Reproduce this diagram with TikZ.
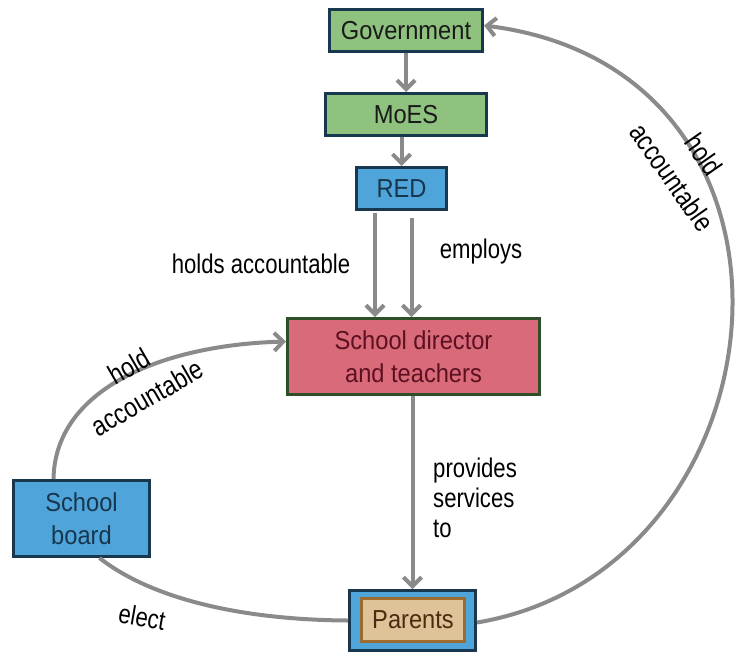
\documentclass[tikz,border=0pt]{standalone}
\usepackage{fontspec}
\setmainfont{Liberation Sans}[FakeStretch=0.91]
\newfontfamily\lblfont{Liberation Sans}[FakeStretch=0.82]
\usetikzlibrary{arrows.meta}
\definecolor{gfill}{HTML}{8FC27E}
\definecolor{navy}{HTML}{17384F}
\definecolor{boxtext}{HTML}{1A1A1A}
\definecolor{bluef}{HTML}{4FA5DA}
\definecolor{bluetext}{HTML}{17364D}
\definecolor{sdfill}{HTML}{D86A7A}
\definecolor{sdborder}{HTML}{2F4F2A}
\definecolor{sdtext}{HTML}{5C1020}
\definecolor{pfill}{HTML}{DEC298}
\definecolor{pborder}{HTML}{9C6B30}
\definecolor{ptext}{HTML}{4D2A0E}
\definecolor{linegray}{HTML}{8A8A8A}
\begin{document}
\begin{tikzpicture}[x=1pt,y=-1pt,
  box/.style={draw=navy, line width=3pt, inner sep=0pt, align=center,
              font=\fontsize{26}{33}\selectfont},
  conn/.style={draw=linegray, line width=4pt},
  arr/.style={conn, -{Straight Barb[length=9pt,width=18pt]}},
  lbl/.style={inner sep=0pt, font=\lblfont\fontsize{27}{30}\selectfont, text=black},
  clbl/.style={inner sep=0pt, align=center, text=black}]
\useasboundingbox (0,0) rectangle (735,654);

% boxes
\node[box, fill=gfill, text=boxtext, minimum width=153pt, minimum height=42pt] (gov) at (406,30.5) {Government};
\node[box, fill=gfill, text=boxtext, minimum width=161pt, minimum height=42pt] (moes) at (406,114.5) {MoES};
\node[box, fill=bluef, text=bluetext, minimum width=90pt, minimum height=42pt] (red) at (401.5,188.5) {RED};
\node[box, draw=sdborder, fill=sdfill, text=sdtext, minimum width=252pt, minimum height=76pt] (sd) at (413.5,356.5) {School director\\and teachers};
\node[box, fill=bluef, text=bluetext, minimum width=136pt, minimum height=76pt] (sb) at (81.5,518.5) {School\\board};
\node[box, fill=bluef, minimum width=126pt, minimum height=60pt] (par) at (412.5,620.5) {};
\node[box, draw=pborder, fill=pfill, text=ptext, minimum width=103pt, minimum height=43pt] (parin) at (413,620) {Parents};

% straight arrows
\draw[arr] (gov) -- (moes);
\draw[arr] (moes.south -| red) -- (red.north);
\draw[arr] ([xshift=-26.5pt,yshift=-2pt]red.south) -- ([xshift=-26.5pt]red.south |- sd.north);
\draw[arr] ([xshift=10pt,yshift=-7pt]red.south) -- ([xshift=10pt]red.south |- sd.north);
\draw[arr] (sd.south -| par) -- (par.north);

% curved connectors
\draw[arr] ([yshift=-2pt]par.east) .. controls (790,570) and (840,70) .. ([yshift=5pt]gov.east);
\draw[arr] ([xshift=-28pt]sb.north) .. controls (55,390) and (160,345) .. ([yshift=15pt]sd.west);
\draw[conn] ([xshift=18pt]sb.south) .. controls (160,605) and (260,620) .. (par.west);

% labels
\node[lbl] (lhold) at (261,263.5) {holds accountable};
\node[lbl] (lemp) at (481,252) {employs};
\node[lbl, anchor=north west, align=left] (lprov) at (433,457.5) {provides\\services\\to};
\node[clbl, rotate=30, font=\lblfont\fontsize{28}{36}\selectfont] (lacc1) at (138,382) {hold\\accountable};
\node[clbl, rotate=-55, font=\lblfont\fontsize{28}{39}\selectfont] (lacc2) at (688,166) {hold\\accountable};
\node[lbl, rotate=-10] (lel) at (142,617) {elect};
\end{tikzpicture}
\end{document}
